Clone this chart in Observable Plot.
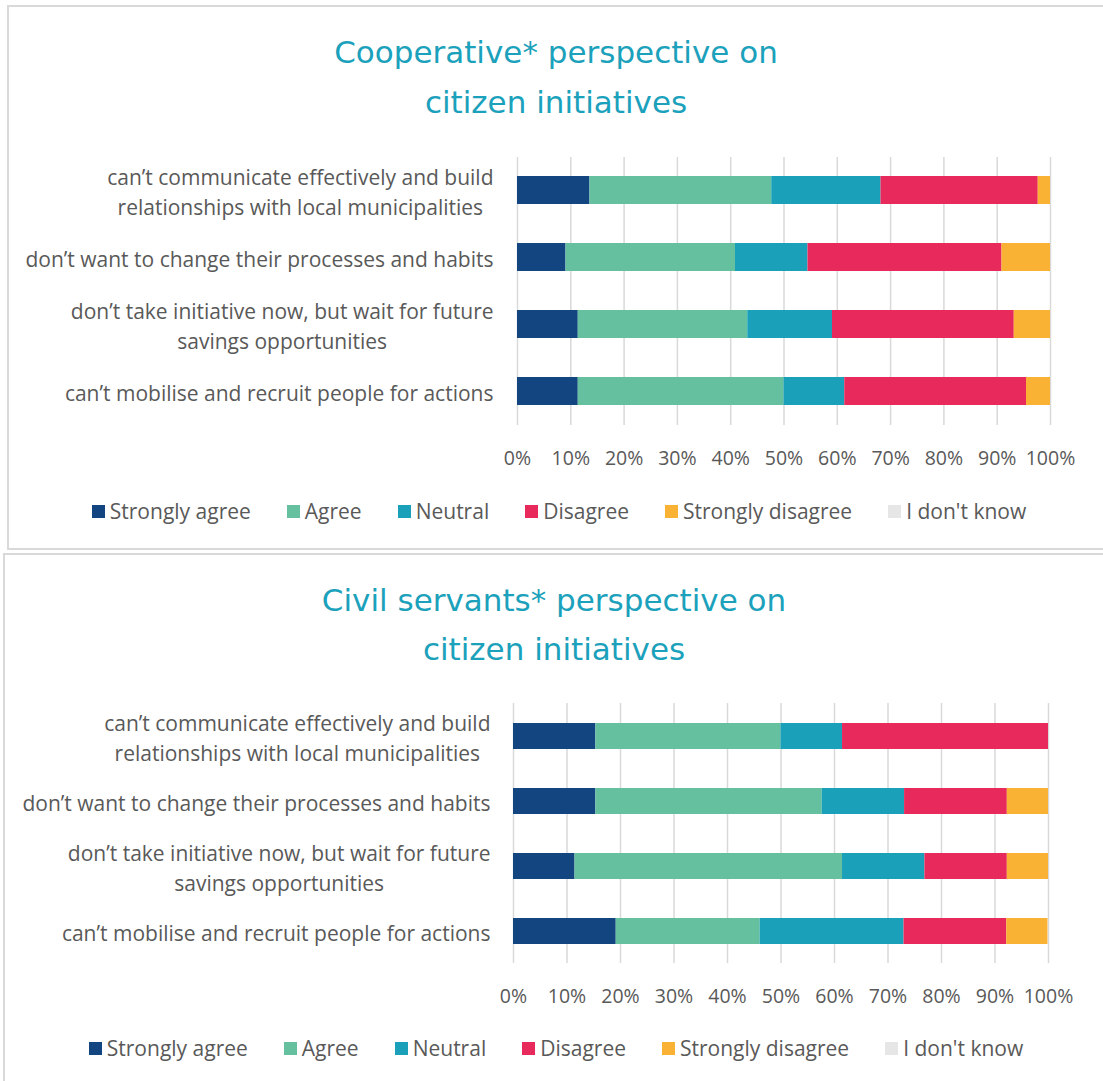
<!DOCTYPE html>
<html><head><meta charset="utf-8">
<script src="https://cdn.jsdelivr.net/npm/d3@7"></script>
<script src="https://cdn.jsdelivr.net/npm/@observablehq/plot@0.6"></script>
<style>
body{margin:0;width:1103px;height:1081px;overflow:hidden;position:relative;background:#fff;font-family:"Open Sans",sans-serif;}
.panel{position:absolute;box-sizing:border-box;border:2px solid #d9d9d9;background:#fff;}
.title{position:absolute;text-align:center;color:#1BA1BB;font-family:"DejaVu Sans",sans-serif;font-size:31px;line-height:50px;}
.chart{position:absolute;left:0;}
.legend{position:absolute;left:0;display:flex;justify-content:center;}
.lg-swatches{font-family:"Open Sans",sans-serif !important;font-size:21px !important;color:#595959 !important;justify-content:center;min-height:0 !important;margin:0 !important;}
.lg-swatch{margin-right:36px !important;}
.lg-swatch:last-child{margin-right:0 !important;}
.lg-swatch > svg{margin-right:5px !important;}
</style></head><body>
<div class="panel" style="left:7px;top:5px;width:1120px;height:545px;"></div>
<div class="panel" style="left:3px;top:553px;width:1120px;height:545px;"></div>
<div class="title" style="left:0;width:1112px;top:27px;">Cooperative* perspective on<br>citizen initiatives</div>
<div class="title" style="left:0;width:1108px;top:576px;line-height:49px;">Civil servants* perspective on<br>citizen initiatives</div>
<div id="c1" class="chart" style="top:140px;"></div>
<div id="l1" class="legend" style="top:497px;width:1118px;"></div>
<div id="c2" class="chart" style="top:690px;"></div>
<div id="l2" class="legend" style="top:1034px;width:1112px;"></div>
<script>
const questions = [
  "can’t communicate effectively and build\nrelationships with local municipalities",
  "don’t want to change their processes and habits",
  "don’t take initiative now, but wait for future\nsavings opportunities",
  "can’t mobilise and recruit people for actions"
];
const levels = ["Strongly agree","Agree","Neutral","Disagree","Strongly disagree","I don't know"];
const colors = ["#134681","#65C0A0","#1AA1B9","#E8295C","#FAB234","#E6E6E6"];
const xTicks = [0,10,20,30,40,50,60,70,80,90,100];

// Cooperative perspective (% of respondents)
const coopStronglyAgree    = [13.6, 9.1, 11.4, 11.4];
const coopAgree            = [34.1, 31.8, 31.8, 38.6];
const coopNeutral          = [20.5, 13.6, 15.9, 11.4];
const coopDisagree         = [29.5, 36.4, 34.1, 34.1];
const coopStronglyDisagree = [2.3, 9.1, 6.8, 4.5];
const coopDontKnow         = [0, 0, 0, 0];

// Civil servants perspective (% of respondents)
const civStronglyAgree    = [15.4, 15.4, 11.5, 19.2];
const civAgree            = [34.6, 42.3, 50.0, 26.9];
const civNeutral          = [11.5, 15.4, 15.4, 26.9];
const civDisagree         = [38.5, 19.2, 15.4, 19.2];
const civStronglyDisagree = [0, 7.7, 7.7, 7.7];
const civDontKnow         = [0, 0, 0, 0];

function rowsOf(series){
  const rows = [];
  questions.forEach((q,i)=>{
    levels.forEach((l,j)=>{ rows.push({question:q, level:l, value:series[j][i]}); });
  });
  return rows;
}

function makeChart(target, series, cfg){
  const chart = Plot.plot({
    width:1103, height:cfg.height,
    marginLeft:cfg.left, marginRight:cfg.right, marginTop:cfg.top, marginBottom:cfg.bottom,
    x:{domain:[0,100]},
    y:{domain:questions, paddingInner:cfg.pad, paddingOuter:cfg.pad/2},
    color:{domain:levels, range:colors},
    style:{fontFamily:"'Open Sans', sans-serif", fontSize:"19px", color:"#595959", background:"transparent"},
    marks:[
      Plot.gridX(xTicks, {stroke:"#d9d9d9", strokeOpacity:1, strokeWidth:1.5}),
      Plot.barX(rowsOf(series), {x:"value", y:"question", fill:"level", order:levels}),
      Plot.axisX(xTicks, {tickSize:0, tickPadding:cfg.tickPad, tickFormat:d=>d+"%", label:null, fill:"#595959", fontSize:19.5}),
      Plot.axisY({tickSize:0, tickPadding:cfg.ypad, label:null, lineHeight:1.4, fill:"#595959", fontSize:21})
    ]
  });
  document.getElementById(target).appendChild(chart);
  chart.querySelectorAll('g[aria-label="y-axis tick label"] text').forEach(t=>{
    if (t.querySelectorAll("tspan").length > 1){
      const w = t.getBBox().width;
      t.setAttribute("text-anchor","middle");
      t.setAttribute("transform", (t.getAttribute("transform")||"") + ` translate(${-w/2},0)`);
    }
  });
}

function makeLegend(target){
  const lg = Plot.legend({color:{domain:levels, range:colors}, legend:"swatches", swatchSize:13, className:"lg"});
  document.getElementById(target).appendChild(lg);
}

makeChart("c1", [coopStronglyAgree,coopAgree,coopNeutral,coopDisagree,coopStronglyDisagree,coopDontKnow],
  {height:340, left:517, right:53, top:17, bottom:55, pad:0.58, tickPad:26, ypad:24});
makeChart("c2", [civStronglyAgree,civAgree,civNeutral,civDisagree,civStronglyDisagree,civDontKnow],
  {height:330, left:513, right:55, top:13, bottom:57, pad:0.6, tickPad:26, ypad:23});
makeLegend("l1");
makeLegend("l2");
</script>
</body></html>
